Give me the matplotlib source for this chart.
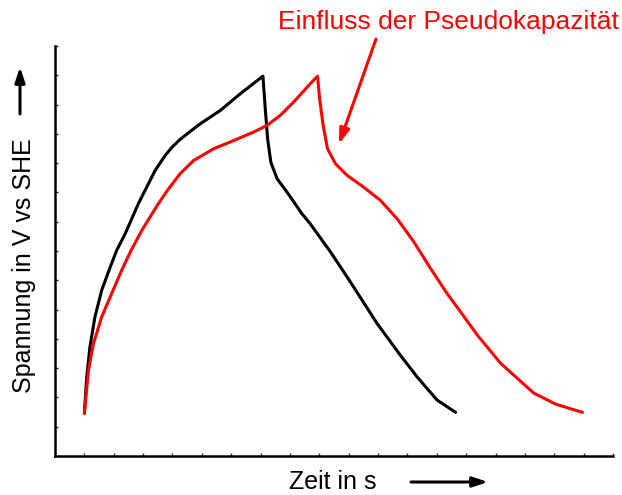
"""
Galvanostatic charge/discharge sketch: pure double layer vs. with pseudocapacitance.
Saves out.png (622x495 px).
"""

import matplotlib

matplotlib.use("Agg")
import matplotlib.pyplot as plt

plt.rcParams["font.family"] = ["Liberation Sans", "DejaVu Sans"]

# time and potential (arbitrary units)
black_t = [1.00, 1.08, 1.19, 1.36, 1.59, 1.88, 2.10, 2.39, 2.84, 3.41, 3.75, 3.99,
           4.26, 4.60, 4.94, 5.63, 6.31, 7.08,
           7.16, 7.24, 7.35, 7.56, 7.90, 8.41, 8.69, 9.38, 10.06, 10.97, 11.76,
           12.33, 13.01, 13.64]
black_u = [1.46, 2.70, 3.73, 4.75, 5.66, 6.45, 7.02, 7.59, 8.62, 9.75, 10.26, 10.55,
           10.81, 11.08, 11.34, 11.80, 12.37, 12.97,
           11.85, 10.83, 10.03, 9.47, 9.01, 8.27, 7.93, 6.97, 5.94, 4.52, 3.44,
           2.70, 1.91, 1.49]

red_t = [1.00, 1.14, 1.31, 1.59, 1.93, 2.27, 2.59, 2.96, 3.52, 3.85, 4.26, 4.72,
         5.40, 6.08, 6.76, 7.22, 7.67, 8.12, 8.69, 8.94,
         9.01, 9.13, 9.28, 9.55, 9.95, 10.51, 11.08, 11.65, 12.22, 12.79, 13.35,
         13.81, 14.38, 15.17, 16.30, 17.05, 17.96]
red_u = [1.46, 2.93, 3.84, 4.75, 5.55, 6.34, 7.02, 7.71, 8.62, 9.10, 9.64, 10.09,
         10.49, 10.77, 11.06, 11.29, 11.63, 12.08, 12.71, 12.97,
         12.20, 11.29, 10.49, 9.98, 9.58, 9.18, 8.73, 8.10, 7.31, 6.40, 5.55,
         4.92, 4.13, 3.17, 2.15, 1.77, 1.49]

X_MAX = 19
Y_MAX = 14


def main() -> None:
    fig = plt.figure(figsize=(6.22, 4.95), dpi=100)
    ax = fig.add_axes([55 / 622, 39 / 495, 558 / 622, 410 / 495])

    line_kw = dict(lw=2.2, solid_joinstyle="round", solid_capstyle="round")
    ax.plot(black_t, black_u, color="black", **line_kw)
    ax.plot(red_t, red_u, color="#ff0000", **line_kw)

    ax.set_xlim(0, X_MAX)
    ax.set_ylim(0, Y_MAX)
    ax.set_xticks(range(1, X_MAX + 1))
    ax.set_yticks(range(1, Y_MAX + 1))
    ax.tick_params(direction="in", length=2, width=1, labelbottom=False,
                   labelleft=False, color="#333333")
    for side in ("top", "right"):
        ax.spines[side].set_visible(False)
    for side in ("left", "bottom"):
        ax.spines[side].set_linewidth(1.8)

    # axis labels and direction arrows, placed in figure pixels
    fig.text(24 / 622, 1 - 266 / 495, "Spannung in V vs SHE", rotation=90,
             ha="center", va="center", fontsize=18)
    fig.text(333 / 622, 1 - 482 / 495, "Zeit in s", ha="center", va="center",
             fontsize=18)
    arrow = dict(arrowstyle="-|>,head_length=0.9,head_width=0.3", color="black",
                 lw=2.2, shrinkA=0, shrinkB=0)
    ax.annotate("", xy=(20, 495 - 67), xytext=(20, 495 - 114),
                xycoords="figure pixels", textcoords="figure pixels",
                arrowprops=arrow, annotation_clip=False)
    ax.annotate("", xy=(488, 495 - 482), xytext=(411, 495 - 482),
                xycoords="figure pixels", textcoords="figure pixels",
                arrowprops=arrow, annotation_clip=False)

    # annotation for the pseudocapacitive shoulder
    fig.text(278 / 622, 1 - 22 / 495, "Einfluss der Pseudokapazität",
             color="#ff0000", ha="left", va="center", fontsize=19)
    red_arrow = dict(arrowstyle="-|>,head_length=0.9,head_width=0.3",
                     color="#ff0000", lw=2.2, shrinkA=0, shrinkB=0)
    ax.annotate("", xy=(339, 495 - 144), xytext=(376, 495 - 39),
                xycoords="figure pixels", textcoords="figure pixels",
                arrowprops=red_arrow, annotation_clip=False)

    fig.savefig("out.png", dpi=100)
    plt.close(fig)


if __name__ == "__main__":
    main()
